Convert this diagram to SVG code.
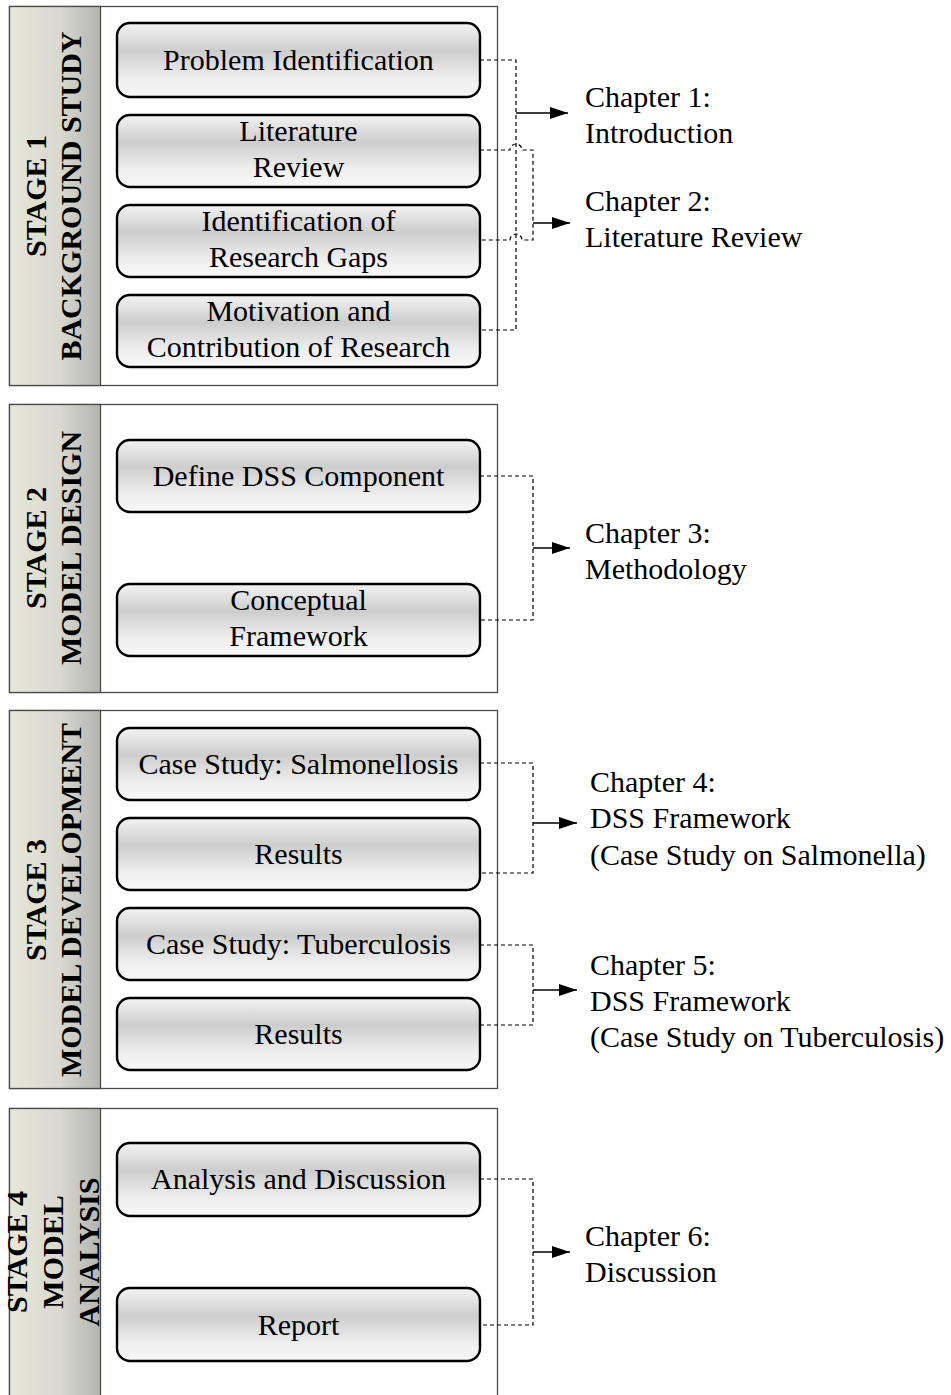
<svg xmlns="http://www.w3.org/2000/svg" width="951" height="1395" viewBox="0 0 951 1395">
  <defs>
    <linearGradient id="boxFill" x1="0" y1="0" x2="0" y2="1">
      <stop offset="0" stop-color="#f3f3f3"/>
      <stop offset="0.38" stop-color="#cdcdcd"/>
      <stop offset="0.75" stop-color="#eeeeee"/>
      <stop offset="1" stop-color="#f8f8f8"/>
    </linearGradient>
    <linearGradient id="stripFill" x1="0" y1="0" x2="1" y2="0">
      <stop offset="0" stop-color="#e6e6da"/>
      <stop offset="0.55" stop-color="#d9d9d0"/>
      <stop offset="1" stop-color="#b4b4b2"/>
    </linearGradient>
    <marker id="arrow" viewBox="0 0 18 12" refX="18" refY="6" markerWidth="18" markerHeight="12" markerUnits="userSpaceOnUse" orient="auto">
      <path d="M0,0 L18,6 L0,12 Z" fill="#000"/>
    </marker>
    <style>
      .frame { fill: #fff; stroke: #4a4a4a; stroke-width: 1.3; }
      .strip { fill: url(#stripFill); stroke: #4a4a4a; stroke-width: 1.3; }
      .box { fill: url(#boxFill); stroke: #000; stroke-width: 2.4; }
      .label { font-family: "Liberation Serif", "Times New Roman", serif; font-size: 30px; fill: #000; text-anchor: middle; }
      .stage { font-family: "Liberation Serif", "Times New Roman", serif; font-size: 30px; font-weight: bold; fill: #000; text-anchor: middle; }
      .chapter { font-family: "Liberation Serif", "Times New Roman", serif; font-size: 30px; fill: #000; }
      .dash { fill: none; stroke: #000; stroke-width: 1.2; stroke-dasharray: 4 3; }
      .solid { fill: none; stroke: #000; stroke-width: 1.3; marker-end: url(#arrow); }
    </style>
  </defs>

  <!-- Stage frames with vertical title strips -->
  <g id="stage1">
    <rect class="frame" x="9.5" y="6.5" width="488" height="379"/>
    <rect class="strip" x="9.5" y="6.5" width="91" height="379"/>
    <text class="stage" transform="translate(46,196) rotate(-90)">STAGE 1</text>
    <text class="stage" transform="translate(81,196) rotate(-90)">BACKGROUND STUDY</text>
  </g>
  <g id="stage2">
    <rect class="frame" x="9.5" y="404.5" width="488" height="288"/>
    <rect class="strip" x="9.5" y="404.5" width="91" height="288"/>
    <text class="stage" transform="translate(46,548) rotate(-90)">STAGE 2</text>
    <text class="stage" transform="translate(81,548) rotate(-90)">MODEL DESIGN</text>
  </g>
  <g id="stage3">
    <rect class="frame" x="9.5" y="710.5" width="488" height="378"/>
    <rect class="strip" x="9.5" y="710.5" width="91" height="378"/>
    <text class="stage" transform="translate(46,900) rotate(-90)">STAGE 3</text>
    <text class="stage" transform="translate(81,900) rotate(-90)">MODEL DEVELOPMENT</text>
  </g>
  <g id="stage4">
    <rect class="frame" x="9.5" y="1108.5" width="488" height="300"/>
    <rect class="strip" x="9.5" y="1108.5" width="91" height="300"/>
    <text class="stage" transform="translate(27,1252) rotate(-90)">STAGE 4</text>
    <text class="stage" transform="translate(63,1252) rotate(-90)">MODEL</text>
    <text class="stage" transform="translate(99,1252) rotate(-90)">ANALYSIS</text>
  </g>

  <!-- Process steps -->
  <g id="problem-identification">
    <rect class="box" x="117" y="23" width="363" height="74" rx="13"/>
    <text class="label" x="298.5" y="70">Problem Identification</text>
  </g>
  <g id="literature-review">
    <rect class="box" x="117" y="115" width="363" height="72" rx="13"/>
    <text class="label" x="298.5" y="141">Literature</text>
    <text class="label" x="298.5" y="177">Review</text>
  </g>
  <g id="research-gaps">
    <rect class="box" x="117" y="205" width="363" height="72" rx="13"/>
    <text class="label" x="298.5" y="231">Identification of</text>
    <text class="label" x="298.5" y="267">Research Gaps</text>
  </g>
  <g id="motivation">
    <rect class="box" x="117" y="295" width="363" height="72" rx="13"/>
    <text class="label" x="298.5" y="321">Motivation and</text>
    <text class="label" x="298.5" y="357">Contribution of Research</text>
  </g>

  <g id="define-dss">
    <rect class="box" x="117" y="440" width="363" height="72" rx="13"/>
    <text class="label" x="298.5" y="486">Define DSS Component</text>
  </g>
  <g id="conceptual-framework">
    <rect class="box" x="117" y="584" width="363" height="72" rx="13"/>
    <text class="label" x="298.5" y="610">Conceptual</text>
    <text class="label" x="298.5" y="646">Framework</text>
  </g>

  <g id="case-salmonellosis">
    <rect class="box" x="117" y="728" width="363" height="72" rx="13"/>
    <text class="label" x="298.5" y="774">Case Study: Salmonellosis</text>
  </g>
  <g id="results-salmonellosis">
    <rect class="box" x="117" y="818" width="363" height="72" rx="13"/>
    <text class="label" x="298.5" y="864">Results</text>
  </g>
  <g id="case-tuberculosis">
    <rect class="box" x="117" y="908" width="363" height="72" rx="13"/>
    <text class="label" x="298.5" y="954">Case Study: Tuberculosis</text>
  </g>
  <g id="results-tuberculosis">
    <rect class="box" x="117" y="998" width="363" height="72" rx="13"/>
    <text class="label" x="298.5" y="1044">Results</text>
  </g>

  <g id="analysis-discussion">
    <rect class="box" x="117" y="1143" width="363" height="73" rx="13"/>
    <text class="label" x="298.5" y="1189">Analysis and Discussion</text>
  </g>
  <g id="report">
    <rect class="box" x="117" y="1288" width="363" height="73" rx="13"/>
    <text class="label" x="298.5" y="1335">Report</text>
  </g>

  <!-- Chapter labels -->
  <g id="chapter1">
    <text class="chapter" x="585" y="107">Chapter 1:</text>
    <text class="chapter" x="585" y="143">Introduction</text>
  </g>
  <g id="chapter2">
    <text class="chapter" x="585" y="211">Chapter 2:</text>
    <text class="chapter" x="585" y="247">Literature Review</text>
  </g>
  <g id="chapter3">
    <text class="chapter" x="585" y="543">Chapter 3:</text>
    <text class="chapter" x="585" y="579">Methodology</text>
  </g>
  <g id="chapter4">
    <text class="chapter" x="590" y="792">Chapter 4:</text>
    <text class="chapter" x="590" y="828">DSS Framework</text>
    <text class="chapter" x="590" y="865">(Case Study on Salmonella)</text>
  </g>
  <g id="chapter5">
    <text class="chapter" x="590" y="975">Chapter 5:</text>
    <text class="chapter" x="590" y="1011">DSS Framework</text>
    <text class="chapter" x="590" y="1047">(Case Study on Tuberculosis)</text>
  </g>
  <g id="chapter6">
    <text class="chapter" x="585" y="1246">Chapter 6:</text>
    <text class="chapter" x="585" y="1282">Discussion</text>
  </g>

  <!-- Connectors -->
  <g id="connectors">
    <!-- Chapter 1: problem identification + motivation -->
    <path class="dash" d="M480,60 H516 V330 H480"/>
    <path class="solid" d="M516,113 H568"/>
    <!-- Chapter 2: literature review + research gaps, hopping over the chapter 1 trunk -->
    <path class="dash" d="M480,150 H510 A6,6 0 0 1 522,150 H533 V240 H522 A6,6 0 0 0 510,240 H480"/>
    <path class="solid" d="M533,223 H570"/>
    <!-- Chapter 3 -->
    <path class="dash" d="M480,476 H533 V620 H480"/>
    <path class="solid" d="M533,548 H570"/>
    <!-- Chapter 4 -->
    <path class="dash" d="M480,763 H533 V873 H480"/>
    <path class="solid" d="M533,823 H577"/>
    <!-- Chapter 5 -->
    <path class="dash" d="M480,945 H533 V1025 H480"/>
    <path class="solid" d="M533,990 H577"/>
    <!-- Chapter 6 -->
    <path class="dash" d="M480,1179 H533 V1325 H480"/>
    <path class="solid" d="M533,1252 H570"/>
  </g>
</svg>
